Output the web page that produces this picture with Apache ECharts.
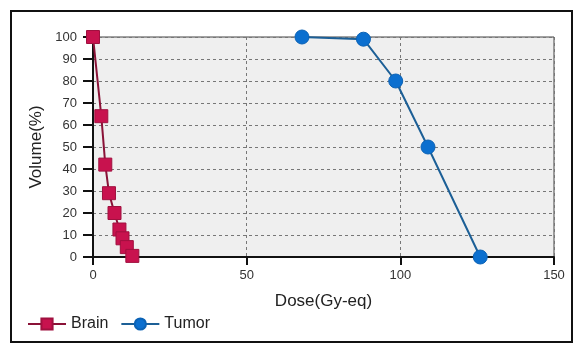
<!DOCTYPE html>
<html><head><meta charset="utf-8">
<script src="https://cdn.jsdelivr.net/npm/echarts@6/dist/echarts.min.js"></script>
<style>html,body{margin:0;padding:0;background:#fff}#c{width:575px;height:357px}</style>
</head><body><div id="c"></div>
<script>
var brainDose = [0, 2.7, 4.0, 5.2, 7.0, 8.6, 9.6, 11.0, 12.8];
var brainVolume = [100, 64, 42, 29, 20, 12.5, 8.5, 4.5, 0.5];
var tumorDose = [68, 88, 98.5, 109, 126];
var tumorVolume = [100, 99, 80, 50, 0];
var xTicks = [0, 50, 100, 150];
var yTicks = [0, 10, 20, 30, 40, 50, 60, 70, 80, 90, 100];

function pairs(xs, ys){ return xs.map(function(x,i){ return [x, ys[i]]; }); }

var chart = echarts.init(document.getElementById('c'));
chart.setOption({
  animation: false,
  backgroundColor: '#fff',
  textStyle: { fontFamily: 'Liberation Sans, Arial, sans-serif' },
  graphic: [{
    type: 'rect', shape: { x: 11, y: 11, width: 561, height: 331 },
    style: { fill: 'none', stroke: '#111', lineWidth: 2 }, z: 100
  }],
  grid: { left: 93, right: 21, top: 37, bottom: 100, show: true,
          backgroundColor: '#efefef', borderColor: '#444', borderWidth: 1 },
  legend: {
    left: 22, top: 311, itemWidth: 38, itemHeight: 14, itemGap: 12,
    textStyle: { fontSize: 16, color: '#222' },
    data: ['Brain', 'Tumor']
  },
  xAxis: {
    type: 'value', min: 0, max: 150, interval: 50,
    name: 'Dose(Gy-eq)', nameLocation: 'middle', nameGap: 36,
    nameTextStyle: { fontSize: 17, color: '#222' },
    axisLine: { lineStyle: { color: '#111', width: 2 } },
    axisTick: { show: true, length: 8, lineStyle: { color: '#111', width: 2 } },
    axisLabel: { fontSize: 13, color: '#333', margin: 12,
                 formatter: function(v){ return xTicks.indexOf(v) >= 0 ? String(v) : ''; } },
    splitLine: { show: true, lineStyle: { color: '#777', type: [3, 3], width: 1 } }
  },
  yAxis: {
    type: 'value', min: 0, max: 100, interval: 10,
    name: 'Volume(%)', nameLocation: 'middle', nameGap: 41, nameRotate: 90,
    nameTextStyle: { fontSize: 17, color: '#222' },
    axisLine: { show: true, lineStyle: { color: '#111', width: 2 } },
    axisTick: { show: true, length: 10, lineStyle: { color: '#111', width: 2 } },
    axisLabel: { fontSize: 13, color: '#333', margin: 16,
                 formatter: function(v){ return yTicks.indexOf(v) >= 0 ? String(v) : ''; } },
    splitLine: { show: true, lineStyle: { color: '#777', type: [3, 3], width: 1 } }
  },
  series: [
    { name: 'Brain', type: 'line', data: pairs(brainDose, brainVolume),
      symbol: 'rect', symbolSize: 13, clip: false,
      lineStyle: { color: '#8a1237', width: 2 },
      itemStyle: { color: '#c8124e', borderColor: '#a0103f', borderWidth: 1 } },
    { name: 'Tumor', type: 'line', data: pairs(tumorDose, tumorVolume),
      symbol: 'circle', symbolSize: 14, clip: false,
      lineStyle: { color: '#1c5f96', width: 2 },
      itemStyle: { color: '#0b6fcf', borderColor: '#0b62b5', borderWidth: 1 } }
  ]
});
</script></body></html>
